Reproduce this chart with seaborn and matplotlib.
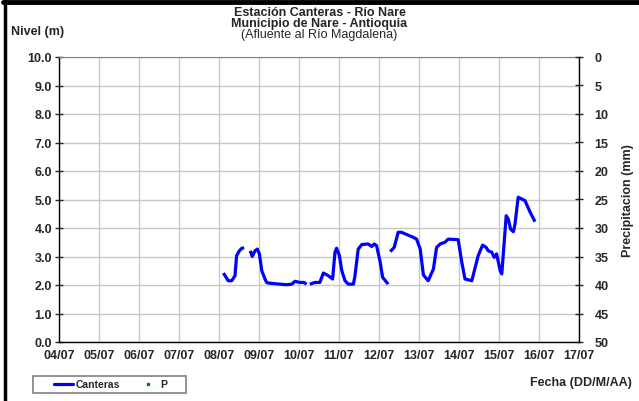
import numpy as np
import pandas as pd
import seaborn as sns
import matplotlib.pyplot as plt
import matplotlib.dates as mdates
from matplotlib.lines import Line2D
from matplotlib.patches import Rectangle

# --- DATA (day-of-month in July, NaN = gap) ---
dia = [8.11, 8.23, 8.32, 8.40, 8.44, 8.51, 8.57, 8.63, np.nan,
       8.78, 8.83, 8.90, 8.96, 9.01, 9.07, 9.15, 9.19, 9.23, 9.52, 9.69,
       9.82, 9.90, 10.02, 10.12, 10.19, np.nan,
       10.27, 10.40, 10.52, 10.61, 10.73, 10.84, 10.90, 10.94, 11.01, 11.07,
       11.15, 11.23, 11.36, 11.40, 11.48, 11.57, 11.73, 11.82, 11.88, 11.94,
       12.03, 12.09, 12.23, np.nan,
       12.28, 12.38, 12.48, 12.56, 12.86, 12.94, 13.03, 13.11, 13.23, 13.36,
       13.44, 13.53, 13.65, 13.73, 13.98, 14.07, 14.15, 14.32, 14.48, 14.59,
       14.68, 14.73, 14.82, 14.88, 14.94, 15.03, 15.07, 15.18, 15.23, 15.29,
       15.36, 15.40, 15.48, 15.65, 15.78, 15.90]
nivel = [2.42, 2.15, 2.15, 2.33, 3.03, 3.20, 3.29, 3.30, np.nan,
         3.20, 3.00, 3.20, 3.26, 3.09, 2.50, 2.21, 2.09, 2.07, 2.03, 2.01,
         2.03, 2.13, 2.09, 2.09, 2.03, np.nan,
         2.03, 2.09, 2.09, 2.42, 2.33, 2.21, 3.15, 3.29, 3.03, 2.50,
         2.15, 2.03, 2.03, 2.33, 3.26, 3.42, 3.44, 3.35, 3.44, 3.38,
         2.80, 2.27, 2.03, np.nan,
         3.17, 3.32, 3.85, 3.85, 3.67, 3.61, 3.26, 2.35, 2.15, 2.56,
         3.32, 3.44, 3.50, 3.61, 3.59, 2.80, 2.21, 2.15, 3.03, 3.40,
         3.32, 3.20, 3.15, 2.97, 3.09, 2.50, 2.39, 4.43, 4.32, 3.96,
         3.87, 4.14, 5.08, 4.96, 4.55, 4.22]

# precipitation series: nothing visible in the reference
precip_fecha = []
precip_mm = []

base = pd.Timestamp("2000-07-01")
fechas = [base + pd.Timedelta(days=d - 1) if not np.isnan(d) else pd.NaT for d in dia]
df = pd.DataFrame({"Fecha": fechas, "Nivel": nivel})

# --- FIGURE ---
sns.set_style("white")
plt.rcParams['font.family'] = ['Liberation Sans', 'DejaVu Sans']

fig = plt.figure(figsize=(6.39, 4.02), dpi=100)
ax = fig.add_axes([59 / 639, 1 - 343 / 402, 520 / 639, 285 / 402])

# draw the line with gaps preserved
ax.plot(df["Fecha"], df["Nivel"], color="#0000ff", lw=2.3, solid_capstyle="butt")

x0 = base + pd.Timedelta(days=3)
x1 = base + pd.Timedelta(days=16)
ax.set_xlim(x0, x1)
ax.set_ylim(0, 10)
ax.set_yticks(np.arange(0, 10.1, 1.0))
ax.yaxis.set_major_formatter(plt.FormatStrFormatter("%.1f"))
ax.xaxis.set_major_locator(mdates.DayLocator())
ax.xaxis.set_major_formatter(mdates.DateFormatter("%d/%m"))
ax.grid(True, color="#c8c8c8", lw=1.0)
ax.set_axisbelow(True)
ax.tick_params(axis="both", direction="inout", length=6, width=1, labelsize=9, pad=2)
for lab in ax.get_xticklabels() + ax.get_yticklabels():
    lab.set_fontweight("bold")
for s in ["left", "bottom"]:
    ax.spines[s].set_color("black")
    ax.spines[s].set_linewidth(1.0)
ax.spines["top"].set_color("#808080")
ax.spines["right"].set_visible(False)

ax2 = ax.twinx()
ax2.plot(precip_fecha, precip_mm, ls="none", marker="s", ms=2, color="green")
ax2.set_ylim(50, 0)
ax2.set_yticks(np.arange(0, 51, 5))
ax2.tick_params(axis="y", direction="inout", length=6, width=1, labelsize=9, pad=8)
for lab in ax2.get_yticklabels():
    lab.set_fontweight("bold")
for s in ["left", "top", "bottom"]:
    ax2.spines[s].set_visible(False)
ax2.spines["right"].set_color("black")
ax2.spines["right"].set_linewidth(1.0)
ax2.set_ylabel("Precipitacion (mm)", fontsize=9, fontweight="bold", labelpad=10)

# titles and labels
fig.text(0.5, 1 - 13 / 402, "Estación Canteras - Río Nare", ha="center", va="center",
         fontsize=9, fontweight="bold")
fig.text(0.5, 1 - 24 / 402, "Municipio de Nare - Antioquia", ha="center", va="center",
         fontsize=9, fontweight="bold")
fig.text(0.5, 1 - 35 / 402, "(Afluente al Río Magdalena)", ha="center", va="center",
         fontsize=9)
fig.text(11 / 639, 1 - 32 / 402, "Nivel (m)", ha="left", va="center",
         fontsize=9, fontweight="bold")
fig.text(632 / 639, 1 - 383 / 402, "Fecha (DD/M/AA)", ha="right", va="center",
         fontsize=9, fontweight="bold")

# legend (entries without frame, box drawn separately)
handles = [Line2D([], [], color="#0000ff", lw=2.3),
           Line2D([], [], ls="none", marker="s", ms=2, color="green")]
fig.legend(handles, ["Canteras", "P"], ncol=2, loc="center",
           bbox_to_anchor=(110.5 / 639, 1 - 385.5 / 402), frameon=False,
           prop={"size": 7.5, "weight": "bold"}, handlelength=1.9,
           handletextpad=0.2, columnspacing=1.8, borderpad=0.2)
fig.add_artist(Rectangle((33 / 639, 1 - 394 / 402), 153 / 639, 17 / 402,
                         transform=fig.transFigure, fill=False,
                         edgecolor="#808080", lw=1.2))

# outer frame (top and left black borders)
fig.add_artist(Line2D([3 / 639, 1], [1 - 2.5 / 402, 1 - 2.5 / 402], color="black", lw=3.5,
                      transform=fig.transFigure))
fig.add_artist(Line2D([4.5 / 639, 4.5 / 639], [0, 1], color="black", lw=2.5,
                      transform=fig.transFigure))

fig.savefig("out.png", dpi=100)
